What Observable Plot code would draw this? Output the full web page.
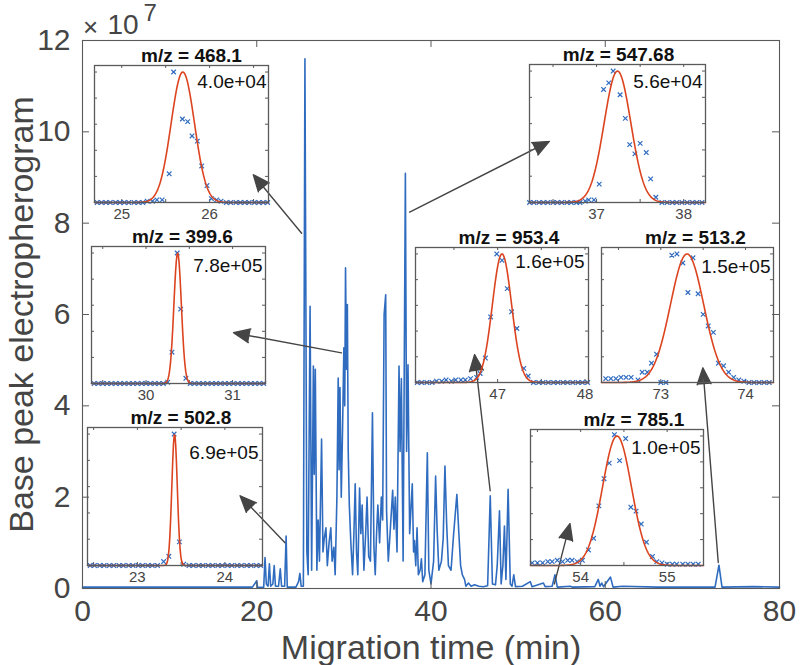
<!DOCTYPE html>
<html><head><meta charset="utf-8">
<script src="https://cdn.jsdelivr.net/npm/d3@7"></script>
<script src="https://cdn.jsdelivr.net/npm/@observablehq/plot@0.6"></script>
<style>
body{margin:0;background:#fff;}
#chart{position:relative;width:800px;height:665px;font-family:"Liberation Sans",Arial,Helvetica,sans-serif;}
#chart svg{position:absolute;overflow:visible;max-width:none;}
</style></head><body><div id="chart"></div>
<script>
// ---------- main electropherogram (intensity in units of 1e7) ----------
const migrationTime = [0,5,10,15,19.5,20.0,20.1,20.8,20.95,21.1,21.3,21.45,21.6,21.85,22.0,22.15,22.5,22.7,22.85,23.2,23.37,23.5,24.5,24.8,24.95,25.1,25.35,25.53,25.75,25.9,26.12,26.3,26.5,26.6,26.72,26.9,27.05,27.2,27.44,27.6,27.75,27.94,28.1,28.3,28.5,28.65,28.85,29.0,29.2,29.35,29.45,29.55,29.7,29.85,30.0,30.1,30.19,30.3,30.4,30.5,30.62,30.8,31.0,31.15,31.3,31.45,31.6,31.8,31.95,32.1,32.3,32.5,32.66,32.85,33.05,33.28,33.45,33.6,33.75,33.9,34.1,34.3,34.45,34.62,34.8,34.9,35.1,35.3,35.6,35.75,35.9,36.1,36.33,36.45,36.6,36.8,37.06,37.2,37.36,37.55,37.85,38.0,38.1,38.25,38.4,38.55,38.75,38.9,39.05,39.3,39.58,39.75,40.0,40.3,40.53,40.7,40.9,41.2,41.4,41.6,41.8,42.0,42.3,42.6,42.75,42.97,43.2,43.4,43.6,43.85,44.0,44.3,44.6,45.0,45.5,46.0,46.5,46.8,47.05,47.4,47.6,47.86,48.05,48.25,48.43,48.6,48.85,49.1,49.3,49.5,49.7,50.5,51.4,51.6,52.9,53.1,53.9,54.23,54.5,56.0,56.2,58.8,59.2,59.4,59.6,59.8,60.6,60.9,62.0,66.0,72.6,73.05,73.4,77.0,80.0];
const basePeak = [0.03,0.03,0.03,0.03,0.03,0.17,0.02,0.03,0.68,0.1,0.05,0.54,0.05,0.1,0.5,0.05,0.05,0.43,0.05,0.05,1.15,0.03,0.03,0.15,0.33,0.05,0.05,11.6,0.8,0.3,6.18,0.4,4.87,2.5,4.8,0.4,1.5,0.6,3.27,0.8,1.1,1.33,0.5,1.0,1.33,0.6,0.9,0.3,2.0,4.61,2.6,4.4,2.0,3.5,5.27,4.0,7.02,4.8,6.22,3.0,1.85,1.0,0.3,1.2,2.29,0.8,0.3,2.2,1.2,1.83,0.4,1.2,2.0,0.7,0.6,3.85,0.9,0.3,1.2,1.83,1.0,2.0,1.5,6.0,6.43,1.7,0.6,1.2,2.15,1.3,2.0,0.8,4.87,3.0,4.6,0.6,9.09,3.0,4.9,1.2,2.29,0.8,1.05,0.5,1.33,0.3,0.4,0.65,0.15,0.3,2.97,0.4,0.1,0.6,2.46,1.3,0.4,0.6,1.1,2.68,1.4,0.5,0.4,1.2,1.55,2.06,1.2,0.5,0.3,0.2,0.05,0.12,0.05,0.08,0.05,0.04,0.06,2.03,0.1,0.08,0.5,1.7,0.1,0.5,1.37,0.2,2.17,0.1,0.05,0.3,0.04,0.05,0.15,0.04,0.12,0.04,0.05,0.3,0.03,0.05,0.03,0.04,0.2,0.05,0.12,0.04,0.25,0.03,0.05,0.03,0.03,0.51,0.03,0.04,0.03];
const xTickValues = [0,20,40,60,80];
const yTickValues = [0,2,4,6,8,10,12];
const xAxisLabel = "Migration time (min)";
const yAxisLabel = "Base peak electropherogram";
const yExponent = "7";

// ---------- arrows (main data coordinates) ----------
const arrowFromTime = [25.15,37.55,29.73,23.24,46.79,72.97,54.16];
const arrowFromValue = [7.78,8.24,5.16,1.0,2.14,0.57,0.1];
const arrowToTime = [19.61,53.58,17.33,18.09,45.0,71.2,55.95];
const arrowToValue = [9.06,9.79,5.6,2.03,5.12,4.83,1.42];

// ---------- insets ----------
const insetTitles = ["m/z = 468.1","m/z = 547.68","m/z = 399.6","m/z = 502.8","m/z = 953.4","m/z = 513.2","m/z = 785.1"];
const insetPeakLabels = ["4.0e+04","5.6e+04","7.8e+05","6.9e+05","1.6e+05","1.5e+05","1.0e+05"];
const insetXDomains = [[24.69,26.67],[36.23,38.25],[29.37,31.38],[22.43,24.43],[46.06,48.04],[72.30,74.33],[53.42,55.42]];
const insetXTicks = [[25,25.5,26,26.5],[36.5,37,37.5,38],[29.5,30,30.5,31],[22.5,23,23.5,24],[46.5,47,47.5,48],[72.5,73,73.5,74],[53.5,54,54.5,55]];
const insetYTicks = [0.2,0.4,0.6,0.8,1.0];
const fitCenter = [25.695,37.24,30.365,23.425,47.05,73.31,54.42];
const fitSigma = [0.133,0.153,0.043,0.031,0.11,0.196,0.167];
const scanTimes = [
 [24.72,24.77,24.82,24.87,24.93,24.98,25.03,25.08,25.14,25.19,25.24,25.29,25.35,25.40,25.46,25.54,25.59,25.69,25.75,25.80,25.86,25.91,25.97,26.02,26.08,26.13,26.19,26.24,26.30,26.35,26.40,26.45,26.51,26.56,26.61,26.66],
 [36.23,36.28,36.34,36.39,36.44,36.50,36.55,36.60,36.66,36.71,36.77,36.81,36.87,36.91,36.97,37.03,37.08,37.14,37.19,37.27,37.33,37.38,37.44,37.50,37.57,37.62,37.68,37.75,37.81,37.87,37.92,37.98,38.04,38.10,38.15,38.21],
 [29.40,29.45,29.50,29.55,29.60,29.65,29.70,29.75,29.80,29.85,29.90,29.95,30.00,30.05,30.10,30.15,30.20,30.25,30.30,30.36,30.40,30.46,30.51,30.56,30.61,30.66,30.71,30.76,30.81,30.86,30.91,30.96,31.01,31.06,31.11,31.16,31.21,31.26,31.31,31.36],
 [22.46,22.51,22.57,22.62,22.68,22.73,22.79,22.84,22.90,22.95,23.01,23.06,23.12,23.17,23.23,23.30,23.36,23.42,23.48,23.53,23.59,23.64,23.70,23.75,23.81,23.86,23.92,23.97,24.03,24.08,24.14,24.19,24.25,24.30,24.36,24.41],
 [46.08,46.13,46.19,46.25,46.30,46.36,46.41,46.47,46.52,46.58,46.63,46.69,46.76,46.80,46.86,46.92,46.99,47.05,47.11,47.16,47.22,47.30,47.35,47.41,47.47,47.52,47.58,47.64,47.69,47.75,47.80,47.86,47.92,47.97,48.03],
 [72.35,72.41,72.47,72.53,72.59,72.65,72.73,72.78,72.84,72.89,72.95,73.00,73.06,73.13,73.19,73.26,73.32,73.38,73.44,73.50,73.56,73.62,73.68,73.74,73.80,73.86,73.92,73.98,74.04,74.10,74.16,74.22,74.28],
 [53.44,53.50,53.56,53.62,53.67,53.73,53.79,53.85,53.90,53.96,54.02,54.09,54.15,54.21,54.27,54.33,54.39,54.45,54.52,54.58,54.64,54.70,54.76,54.83,54.88,54.94,55.00,55.06,55.11,55.18,55.24,55.30,55.36]
];
const scanValues = [
 [0,0,0,0,0,0,0,0,0,0,0,0.01,0.01,0.02,0.02,0.22,1.0,0.64,0.62,0.51,0.47,0.28,0.13,0.03,0.02,0.01,0,0,0,0,0,0,0,0,0,0],
 [0,0,0,0,0,0,0,0,0,0,0,0,0.01,0.02,0.02,0.14,0.86,0.91,1.0,0.82,0.64,0.44,0.37,0.45,0.38,0.18,0.04,0,0,0,0,0,0,0,0,0],
 [0,0,0,0,0,0,0,0,0,0,0,0,0,0,0,0,0,0.01,0.24,1.0,0.57,0.04,0,0,0,0,0,0,0,0,0,0,0,0,0,0,0,0,0,0],
 [0,0,0,0,0,0,0,0,0,0,0,0,0,0,0,0.03,0.07,1.0,0.18,0.01,0,0,0,0,0,0,0,0,0,0,0,0,0,0,0,0],
 [0,0,0,0,0.01,0.01,0.02,0.01,0.02,0.02,0.02,0.03,0.04,0.07,0.19,0.51,1.0,0.95,0.73,0.55,0.42,0.11,0.05,0,0,0,0,0,0,0,0,0,0,0,0],
 [0.03,0.03,0.03,0.04,0.04,0.04,0.02,0.08,0.08,0.15,0.22,0,0,0.99,1.0,0.93,0.70,0.97,0.69,0.53,0.44,0.39,0.15,0.13,0.08,0.04,0.02,0.01,0,0,0,0,0],
 [0.02,0.02,0.02,0.03,0.03,0.04,0.03,0.04,0.04,0.03,0.04,0.12,0.21,0.46,0.67,0.79,1.01,0.81,0.98,0.45,0.42,0.32,0.18,0.07,0.03,0.02,0.01,0.01,0.01,0.01,0.01,0.01,0.01]
];

// ---------- layout / style (not data) ----------
const insetFrames = [[94,65,174,137],[529,64,176,138],[91,246,174,137],[87,427,175,138],[415,247,173,135],[601,247,172,135],[530,429,173,136]];
const titleShift = [10,1,4,6,7,8,17];
const labelRightPad = [2,3,3,4,4,3,3];
const labelBaseline = [22,23,25,31,20,25,24];
const FONT = "Liberation Sans, Arial, Helvetica, sans-serif";
const BLUE = "#2f6cc0", RED = "#dc4420", AXIS = "#5a5a5a", LABEL = "#454545", ARROW = "#454545";

const chart = document.getElementById("chart");
const W = 800, H = 665, mL = 82, mR = 21, mT = 40, mB = 77;
const pw = W - mL - mR, ph = H - mT - mB;
const series = migrationTime.map((t, i) => ({t, v: basePeak[i]}));
const arrows = arrowFromTime.map((t, i) => ({x1: t, y1: arrowFromValue[i], x2: arrowToTime[i], y2: arrowToValue[i]}));

const main = Plot.plot({
  width: W, height: H, marginLeft: mL, marginRight: mR, marginTop: mT, marginBottom: mB,
  x: {domain: [0, 80], axis: null},
  y: {domain: [0, 12], axis: null},
  style: {fontFamily: FONT, background: "transparent", overflow: "visible"},
  marks: [
    Plot.line(series, {x: "t", y: "v", stroke: BLUE, strokeWidth: 1.6}),
    Plot.frame({stroke: AXIS, strokeWidth: 1.1}),
    Plot.tickX(xTickValues, {x: d => d, stroke: AXIS, insetTop: ph - 7}),
    Plot.tickX(xTickValues, {x: d => d, stroke: AXIS, insetBottom: ph - 7}),
    Plot.tickY(yTickValues, {y: d => d, stroke: AXIS, insetRight: pw - 7}),
    Plot.tickY(yTickValues, {y: d => d, stroke: AXIS, insetLeft: pw - 7}),
    Plot.arrow(arrows, {x1: "x1", y1: "y1", x2: "x2", y2: "y2", stroke: ARROW, fill: ARROW, strokeWidth: 1.4, headLength: 19, headAngle: 46, strokeLinejoin: "miter"}),
    Plot.text(xTickValues, {x: d => d, text: d => String(d), frameAnchor: "bottom", dy: 32, lineAnchor: "bottom", fontSize: 30, fill: LABEL}),
    Plot.text(yTickValues, {y: d => d, text: d => String(d), frameAnchor: "left", dx: -12, textAnchor: "end", lineAnchor: "middle", fontSize: 30, fill: LABEL}),
    Plot.text([xAxisLabel], {text: d => d, frameAnchor: "bottom", dy: 70, lineAnchor: "bottom", fontSize: 34, fill: LABEL}),
    Plot.text([yAxisLabel], {text: d => d, frameAnchor: "left", dx: -50, rotate: -90, textAnchor: "middle", lineAnchor: "bottom", fontSize: 34, fill: LABEL}),
    Plot.text(["×"], {text: d => d, frameAnchor: "top-left", dx: 8, dy: -5, textAnchor: "middle", lineAnchor: "bottom", fontSize: 26, fill: LABEL}),
    Plot.text(["10"], {text: d => d, frameAnchor: "top-left", dx: 25, dy: -7, textAnchor: "start", lineAnchor: "bottom", fontSize: 28, fill: LABEL}),
    Plot.text([yExponent], {text: d => d, frameAnchor: "top-left", dx: 61, dy: -20, textAnchor: "start", lineAnchor: "bottom", fontSize: 24, fill: LABEL})
  ]
});
main.style.left = "0px"; main.style.top = "0px"; main.style.background = "transparent";
chart.appendChild(main);

insetTitles.forEach((title, i) => {
  const [fl, ft, fw, fh] = insetFrames[i];
  const pl = 20, pr = 20, pt = 30, pb = 24;
  const [d0, d1] = insetXDomains[i];
  const pts = scanTimes[i].map((t, k) => ({t, v: scanValues[i][k]}));
  const curve = d3.range(0, 241).map(k => {
    const t = d0 + (d1 - d0) * k / 240;
    return {t, v: Math.exp(-((t - fitCenter[i]) ** 2) / (2 * fitSigma[i] ** 2))};
  });
  const ticks = insetXTicks[i];
  const svg = Plot.plot({
    width: fw + pl + pr, height: fh + pt + pb,
    marginLeft: pl, marginRight: pr, marginTop: pt, marginBottom: pb,
    x: {domain: insetXDomains[i], axis: null},
    y: {domain: [0, 1.05], axis: null},
    style: {fontFamily: FONT, background: "transparent", overflow: "visible"},
    marks: [
      Plot.tickX(ticks, {x: d => d, stroke: AXIS, insetTop: fh - 3}),
      Plot.tickX(ticks, {x: d => d, stroke: AXIS, insetBottom: fh - 3}),
      Plot.tickY(insetYTicks, {y: d => d, stroke: AXIS, insetRight: fw - 3}),
      Plot.tickY(insetYTicks, {y: d => d, stroke: AXIS, insetLeft: fw - 3}),
      Plot.dot(pts, {x: "t", y: "v", symbol: "times", r: 2.2, stroke: BLUE, strokeWidth: 1.2}),
      Plot.line(curve, {x: "t", y: "v", stroke: RED, strokeWidth: 1.6}),
      Plot.frame({stroke: AXIS, strokeWidth: 1.3}),
      Plot.text(ticks.filter(d => Number.isInteger(d)), {x: d => d, text: d => String(d), frameAnchor: "bottom", dy: 16.5, lineAnchor: "bottom", fontSize: 15, fill: LABEL}),
      Plot.text([title], {text: d => d, frameAnchor: "top", dx: titleShift[i], dy: -4, lineAnchor: "bottom", fontSize: 19, fontWeight: "bold", fill: "#111"}),
      Plot.text([insetPeakLabels[i]], {text: d => d, frameAnchor: "top-right", dx: -labelRightPad[i], dy: labelBaseline[i], textAnchor: "end", lineAnchor: "bottom", fontSize: 19, fill: "#111"})
    ]
  });
  svg.style.left = (fl - pl) + "px";
  svg.style.top = (ft - pt) + "px";
  svg.style.background = "transparent";
  chart.appendChild(svg);
});
</script>
</body></html>
